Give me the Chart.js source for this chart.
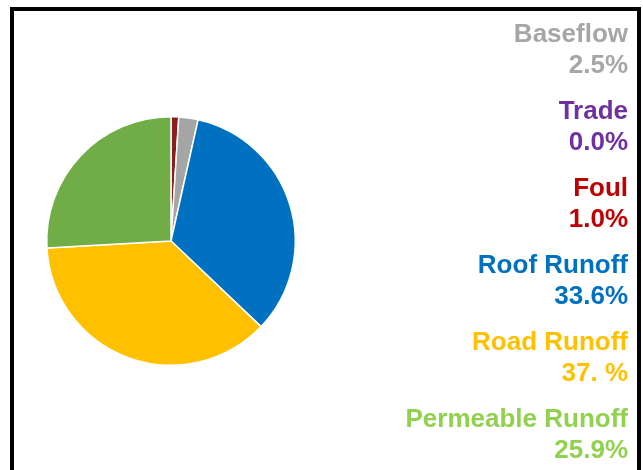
<!DOCTYPE html>
<html>
<head>
<meta charset="utf-8">
<script src="https://cdn.jsdelivr.net/npm/chart.js@4/dist/chart.umd.min.js"></script>
<style>
  body { margin: 0; background: #fff; }
  #frame {
    position: absolute; left: 10px; top: 7px; width: 623px; height: 480px;
    border: 4px solid #000; border-bottom: none; pointer-events: none;
  }
  #chart { position: absolute; left: 0; top: 0; }
</style>
</head>
<body>
<canvas id="chart" width="643" height="470"></canvas>
<div id="frame"></div>
<script>
// categories as listed on the right, top to bottom
const categories = ["Baseflow", "Trade", "Foul", "Roof Runoff", "Road Runoff", "Permeable Runoff"];
const shares = [2.5, 0.0, 1.0, 33.6, 37.0, 25.9];
const shareText = ["2.5%", "0.0%", "1.0%", "33.6%", "37. %", "25.9%"];
const labelColors = ["#A6A6A6", "#7030A0", "#C00000", "#0070C0", "#FFC000", "#92D050"];
const sliceColors = ["#A5A5A5", "#7030A0", "#8A1E1E", "#0070C0", "#FFC000", "#70AD47"];
// order the slices go round the pie, clockwise from 12 o'clock
const pieOrder = [2, 1, 0, 3, 4, 5];

const sideLabels = {
  id: "sideLabels",
  afterDraw(chart) {
    const ctx = chart.ctx;
    ctx.save();
    ctx.font = "bold 26px 'Liberation Sans', Arial, sans-serif";
    ctx.textAlign = "right";
    ctx.textBaseline = "alphabetic";
    categories.forEach((name, i) => {
      const y = 42 + i * 77;
      ctx.fillStyle = labelColors[i];
      ctx.fillText(name, 628, y);
      ctx.fillText(shareText[i], 628, y + 31);
    });
    ctx.restore();
  }
};

new Chart(document.getElementById("chart").getContext("2d"), {
  type: "pie",
  data: {
    labels: pieOrder.map(i => categories[i]),
    datasets: [{
      data: pieOrder.map(i => shares[i]),
      backgroundColor: pieOrder.map(i => sliceColors[i]),
      borderColor: "#fff",
      borderWidth: 1.5
    }]
  },
  options: {
    responsive: false,
    animation: false,
    layout: { padding: { left: 46, right: 347, top: 116, bottom: 104 } },
    plugins: { legend: { display: false }, tooltip: { enabled: false } }
  },
  plugins: [sideLabels]
});
</script>
</body>
</html>
